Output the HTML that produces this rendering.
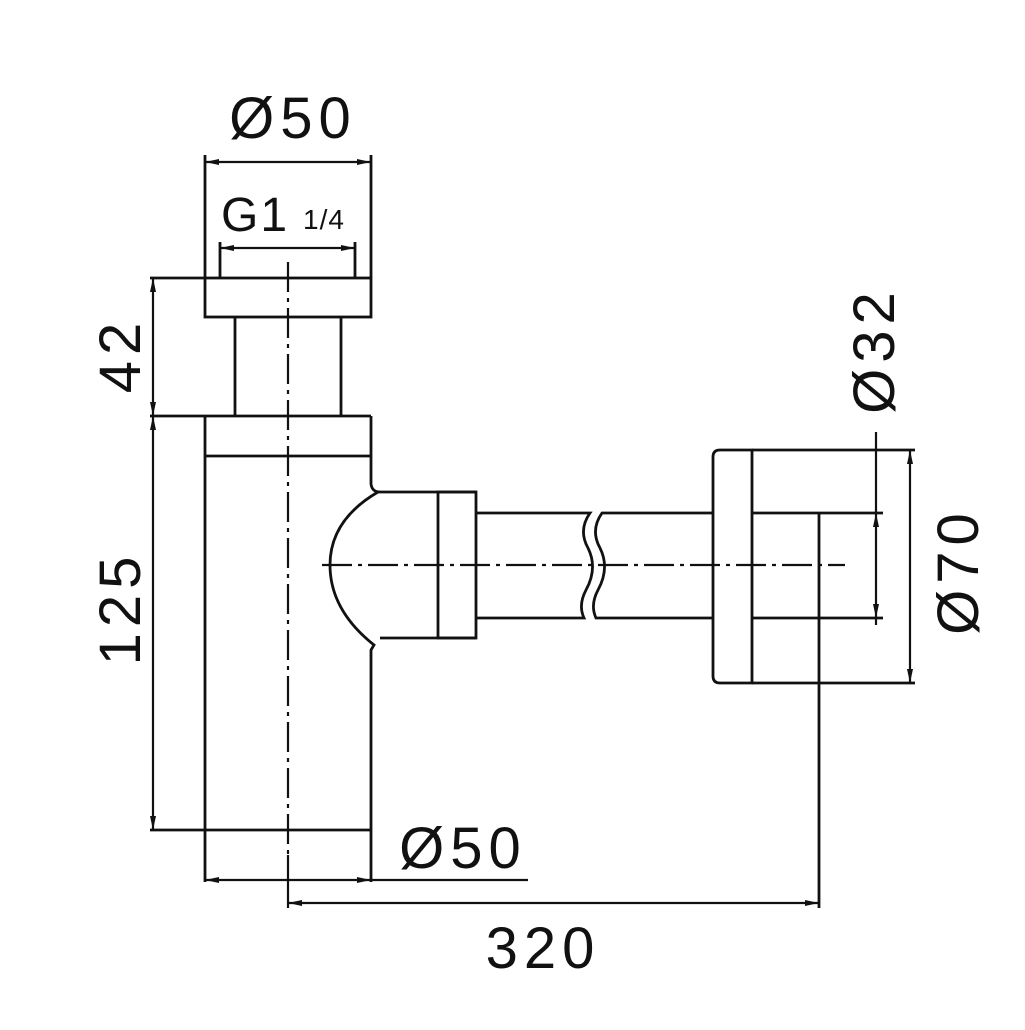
<!DOCTYPE html>
<html><head><style>html,body{margin:0;padding:0;background:#fff}</style></head>
<body>
<svg width="1025" height="1025" viewBox="0 0 1025 1025" xmlns="http://www.w3.org/2000/svg">
<defs>
<marker id="a" viewBox="0 0 14 8" refX="14" refY="4" markerWidth="14" markerHeight="8" markerUnits="userSpaceOnUse" orient="auto-start-reverse"><path d="M0,1 L14,4 L0,7z" fill="#111"/></marker>
</defs>
<g fill="none" stroke="#111" stroke-width="2.8">
<rect x="205" y="278" width="166" height="39"/>
<line x1="235" y1="317" x2="235" y2="416"/><line x1="341" y1="317" x2="341" y2="416"/>
<line x1="150" y1="416" x2="371" y2="416"/>
<line x1="205" y1="416" x2="205" y2="882"/>
<line x1="205" y1="456" x2="371" y2="456"/>
<path d="M371,416 L371,484 Q372,492 380,492 L476,492"/>
<path d="M378,492 Q330,520 330,565 Q330,610 374,645 L371,650 L371,882"/>
<path d="M380,638 L476,638"/>
<line x1="150" y1="830" x2="371" y2="830"/>
<rect x="438" y="492" width="38" height="146"/>
<path d="M476,513 L590,513 Q578,530 588,548 Q598,568 586,590 Q578,605 584,618 L476,618"/>
<path d="M713,513 L602,513 Q590,530 600,548 Q610,568 598,590 Q590,605 596,618 L713,618"/>
<path d="M752,450 L720,450 Q713,450 713,457 L713,676 Q713,683 720,683 L752,683 Z"/>
<line x1="752" y1="450" x2="915" y2="450"/><line x1="752" y1="683" x2="915" y2="683"/>
<line x1="752" y1="513" x2="883" y2="513"/><line x1="752" y1="618" x2="883" y2="618"/>
<line x1="819" y1="513" x2="819" y2="908"/>
<line x1="205" y1="155" x2="205" y2="278"/><line x1="371" y1="155" x2="371" y2="278"/>
<line x1="220" y1="242" x2="220" y2="278"/><line x1="355" y1="242" x2="355" y2="278"/>
<line x1="150" y1="278" x2="205" y2="278"/>
</g>
<g stroke="#111" stroke-width="2.2" fill="none">
<line x1="205" y1="162" x2="371" y2="162" marker-start="url(#a)" marker-end="url(#a)"/>
<line x1="220" y1="248" x2="355" y2="248" marker-start="url(#a)" marker-end="url(#a)"/>
<line x1="153" y1="278" x2="153" y2="416" marker-start="url(#a)" marker-end="url(#a)"/>
<line x1="153" y1="416" x2="153" y2="830" marker-start="url(#a)" marker-end="url(#a)"/>
<line x1="205" y1="880" x2="371" y2="880" marker-start="url(#a)" marker-end="url(#a)"/>
<line x1="371" y1="880" x2="528" y2="880"/>
<line x1="288" y1="855" x2="288" y2="908"/>
<line x1="288" y1="903" x2="819" y2="903" marker-start="url(#a)" marker-end="url(#a)"/>
<line x1="876" y1="432" x2="876" y2="513"/>
<line x1="876" y1="513" x2="876" y2="618" marker-start="url(#a)" marker-end="url(#a)"/>
<line x1="876" y1="618" x2="876" y2="625"/>
<line x1="910" y1="450" x2="910" y2="683" marker-start="url(#a)" marker-end="url(#a)"/>
<line x1="288" y1="262" x2="288" y2="855" stroke-dasharray="30,6,4,6"/>
<line x1="322" y1="565" x2="845" y2="565" stroke-dasharray="30,6,4,6"/>
</g>
<g font-family="Liberation Sans, sans-serif" fill="#111" letter-spacing="6">
<text x="293" y="138" font-size="58" text-anchor="middle">Ø50</text>
<text x="221" y="231" font-size="48" letter-spacing="2">G1</text>
<text x="303" y="229" font-size="28" letter-spacing="1">1/4</text>
<text transform="translate(140,355) rotate(-90)" font-size="58" text-anchor="middle">42</text>
<text transform="translate(140,608) rotate(-90)" font-size="58" text-anchor="middle">125</text>
<text x="463" y="868" font-size="58" text-anchor="middle">Ø50</text>
<text x="543" y="968" font-size="58" text-anchor="middle">320</text>
<text transform="translate(894,350) rotate(-90)" font-size="58" text-anchor="middle">Ø32</text>
<text transform="translate(978,571) rotate(-90)" font-size="58" text-anchor="middle">Ø70</text>
</g>
</svg>
</body></html>
